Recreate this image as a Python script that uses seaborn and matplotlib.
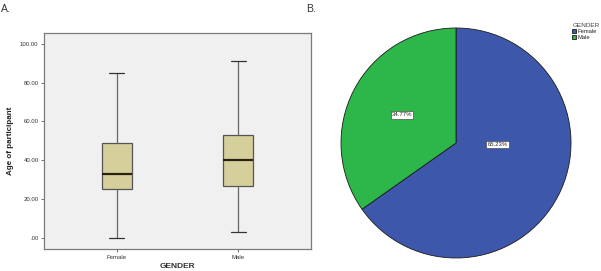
import numpy as np
import pandas as pd
import matplotlib
matplotlib.use("Agg")
import matplotlib.pyplot as plt
import seaborn as sns

# ---- data ----
genders = ["Female", "Male"]
# five-number summaries: min, Q1, median, Q3, max
female_summary = [0, 25, 33, 49, 85]
male_summary = [3, 27, 40, 53, 91]
y_ticks = [0, 20, 40, 60, 80, 100]
y_tick_labels = [".00", "20.00", "40.00", "60.00", "80.00", "100.00"]
pie_labels = ["Female", "Male"]
pie_shares = [65.23, 34.77]

sns.set_theme(style="white")
plt.rcParams["font.family"] = ["Liberation Sans", "DejaVu Sans"]

fig = plt.figure(figsize=(6.01, 2.71), dpi=100)

# ---- panel A: boxplot ----
df = pd.DataFrame({
    "GENDER": ["Female"] * len(female_summary) + ["Male"] * len(male_summary),
    "age": female_summary + male_summary,
})
ax = fig.add_axes([0.0732, 0.0812, 0.4443, 0.797])
ax.set_facecolor("#f0f0f0")
sns.boxplot(data=df, x="GENDER", y="age", order=genders, ax=ax, width=0.25,
            whis=np.inf, color="#d5cf9c", saturation=1, linewidth=0.9,
            boxprops=dict(edgecolor="#555555"),
            whiskerprops=dict(color="#666666"),
            capprops=dict(color="#333333"),
            medianprops=dict(color="#2a2210", linewidth=1.6))
ax.set_xlim(-0.6, 1.6)
ax.set_ylim(-5.7, 105.6)
ax.set_yticks(y_ticks)
ax.set_yticklabels(y_tick_labels)
ax.tick_params(axis="both", labelsize=4.3, length=2.5, width=0.6, color="#555555",
               pad=1.5, left=True, bottom=True, labelcolor="#333333")
ax.set_xlabel("GENDER", fontsize=6.0, fontweight="bold", labelpad=2.5, color="#333333")
ax.set_ylabel("Age of participant", fontsize=5.8, fontweight="bold", labelpad=4,
              color="#222222")
for s in ax.spines.values():
    s.set_color("#7a7a7a")
    s.set_linewidth(0.9)

fig.text(0.002, 0.985, "A.", fontsize=7.5, va="top", ha="left", color="#333333")
fig.text(0.510, 0.985, "B.", fontsize=7.5, va="top", ha="left", color="#333333")

# ---- panel B: pie ----
pax = fig.add_axes([0.5674, 0.048, 0.3827, 0.8487])
colors = ["#3d58ab", "#2db64a"]
wedges, texts, autotexts = pax.pie(
    pie_shares, colors=colors, startangle=90, counterclock=False,
    autopct="%.2f%%", pctdistance=0.53,
    wedgeprops=dict(edgecolor="#1a1a1a", linewidth=0.6),
    textprops=dict(fontsize=4.3, color="#222222"))
for t in autotexts:
    t.set_bbox(dict(facecolor="white", edgecolor="#333333", linewidth=0.4, pad=0.8))
autotexts[0].set_position((0.36, -0.01))
pax.set_xlim(-1.0, 1.0)
pax.set_ylim(-1.0, 1.0)
pax.set_aspect("equal")

leg = fig.legend(wedges, pie_labels, title="GENDER", loc="upper left",
                 bbox_to_anchor=(0.952, 0.915), frameon=False, fontsize=4.2,
                 title_fontsize=4.6, handlelength=0.7, handleheight=0.7,
                 handletextpad=0.2, labelspacing=0.15, borderpad=0,
                 borderaxespad=0, alignment="left")
leg.get_title().set_color("#444444")

fig.savefig("out.png", dpi=100)
